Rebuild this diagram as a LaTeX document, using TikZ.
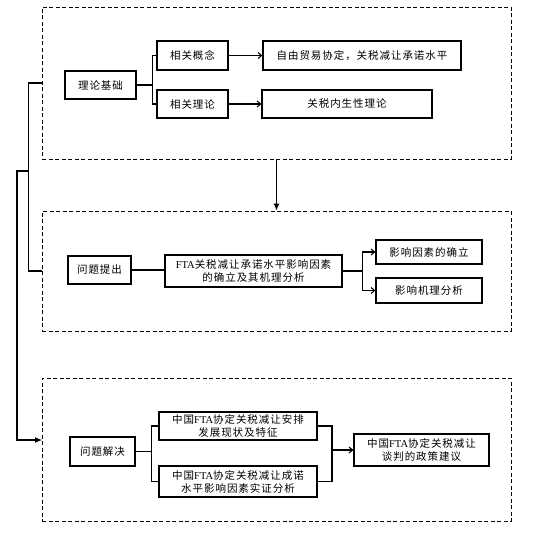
\documentclass[tikz,border=0pt]{standalone}
\usepackage{fontspec}
\usetikzlibrary{arrows.meta}
\setmainfont{Liberation Serif}
\newfontfamily\cjk[LetterSpace=9]{Noto Sans CJK SC}
\newcommand{\fta}{{\rmfamily FTA}}
\begin{document}
\begin{tikzpicture}[x=1pt,y=-1pt,
    >={Straight Barb[length=3.5pt,width=6pt]},
    box/.style={draw, line width=1.2pt, inner sep=1pt, align=center,
        font=\cjk\fontsize{10.5}{13}\selectfont},
    group/.style={draw, line width=0.9pt, dash pattern=on 4pt off 2.5pt, inner sep=0pt},
    link/.style={line width=1.1pt},
    bigtip/.style={-{Latex[length=7pt,width=6pt]}}]
    \useasboundingbox (0,0) rectangle (538,533);

    \node[group, minimum width=469pt, minimum height=152pt] (g1) at (276.5,83) {};
    \node[group, minimum width=469pt, minimum height=120pt] (g2) at (276.5,271) {};
    \node[group, minimum width=469pt, minimum height=143pt] (g3) at (276.5,449.5) {};

    \node[box, minimum width=71pt, minimum height=28pt] (base) at (100.5,85) {理论基础};
    \node[box, minimum width=71pt, minimum height=29pt] (concept) at (192.5,55.5) {相关概念};
    \node[box, minimum width=71pt, minimum height=28pt] (theory) at (192.5,104) {相关理论};
    \node[box, minimum width=198pt, minimum height=29pt] (fta) at (362,55.5) {自由贸易协定，关税减让承诺水平};
    \node[box, minimum width=170pt, minimum height=28pt] (endo) at (347,104) {关税内生性理论};

    \node[box, minimum width=63pt, minimum height=28pt] (ask) at (99.5,270) {问题提出};
    \node[box, minimum width=177pt, minimum height=32pt] (level) at (253.5,271) {\fta{}关税减让承诺水平影响因素\\的确立及其机理分析};
    \node[box, minimum width=106pt, minimum height=24pt] (factor) at (429,252) {影响因素的确立};
    \node[box, minimum width=106pt, minimum height=25pt] (mech) at (429,290.5) {影响机理分析};

    \node[box, minimum width=65pt, minimum height=29pt] (solve) at (102.5,451.5) {问题解决};
    \node[box, minimum width=158pt, minimum height=28pt] (status) at (238,426) {中国\fta{}协定关税减让安排\\发展现状及特征};
    \node[box, minimum width=158pt, minimum height=31pt] (test) at (238,481.5) {中国\fta{}协定关税减让成诺\\水平影响因素实证分析};
    \node[box, minimum width=135pt, minimum height=32pt] (policy) at (421.5,450) {中国\fta{}协定关税减让\\谈判的政策建议};

    \coordinate (split) at (29,171);
    \coordinate (in3) at (42,440);
    \coordinate (join) at (332,450);

    \draw[link] (base.east) -- ++(16,0) |- (concept.west);
    \draw[link] (base.east) -- ++(16,0) |- (theory.west);
    \draw[link, ->] (concept.east) -- (fta.west);
    \draw[link, ->] (theory.east) -- (endo.west);

    \draw[link, bigtip] (g1.south) -- (g2.north);
    \draw[link] (g1.west) -- ++(-13,0) |- (g2.west);
    \draw[link, bigtip] (split) -- ++(-12,0) |- (in3);

    \draw[link] (ask.east) -- (ask.east -| level.west);
    \draw[link, ->] (level.east) -- ++(20,0) |- (factor.west);
    \draw[link, ->] (level.east) -- ++(20,0) |- (mech.west);

    \draw[link] (solve.east) -- ++(16,0) |- (status.west);
    \draw[link] (solve.east) -- ++(16,0) |- (test.west);
    \draw[link] (status.east) -| (join);
    \draw[link] (test.east) -| (join);
    \draw[link, ->] (join) -- (policy.west);
\end{tikzpicture}
\end{document}
